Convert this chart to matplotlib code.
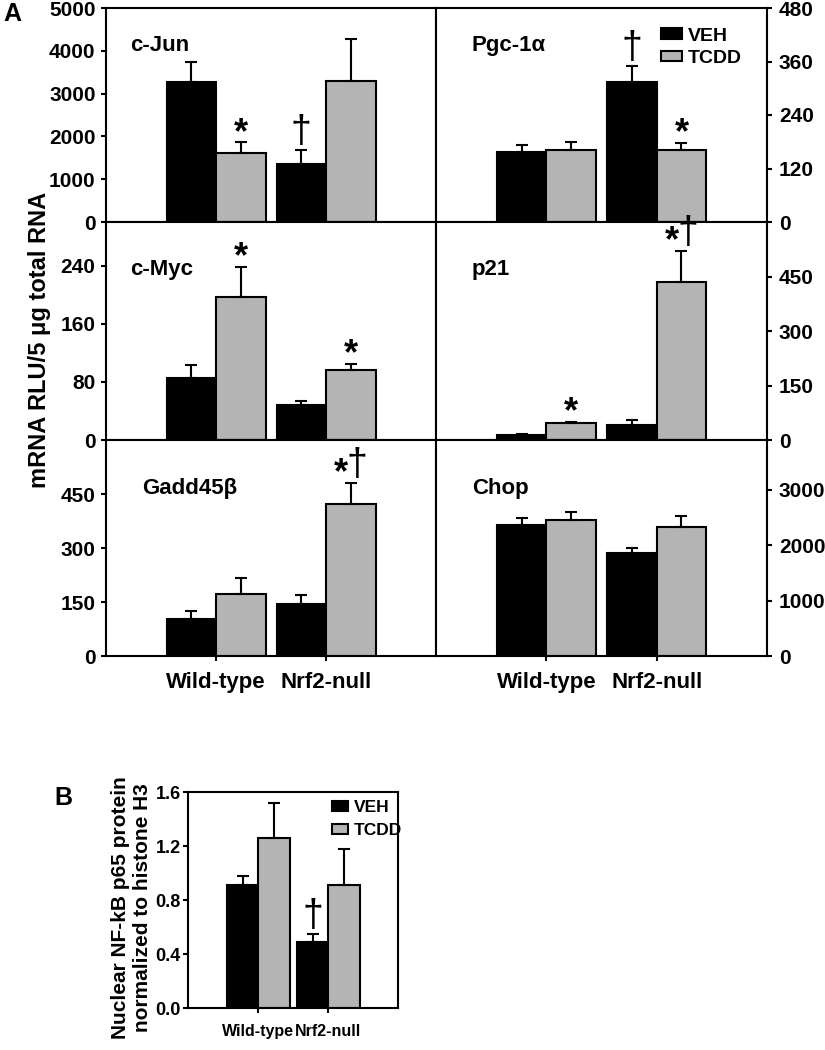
import numpy as np
import matplotlib
matplotlib.use("Agg")
import matplotlib.pyplot as plt
from matplotlib.patches import Patch
from matplotlib.ticker import FormatStrFormatter

plt.rcParams['font.family'] = ['Liberation Sans', 'DejaVu Sans']
plt.rcParams['font.weight'] = 'bold'

# data
groups = ["Wild-type", "Nrf2-null"]
genes = ["c-Jun", "Pgc-1\u03b1", "c-Myc", "p21", "Gadd45\u03b2", "Chop"]
veh_mean = [[3280, 1350], [157, 315], [85, 48], [15, 40], [102, 145], [2365, 1860]]
veh_err = [[450, 340], [15, 34], [18, 5], [2, 14], [22, 24], [120, 85]]
tcdd_mean = [[1620, 3300], [162, 162], [197, 96], [48, 434], [171, 421], [2450, 2330]]
tcdd_err = [[240, 970], [17, 16], [41, 9], [2, 86], [46, 60], [155, 190]]
veh_sig = [["", "\u2020"], ["", "\u2020"], ["", ""], ["", ""], ["", ""], ["", ""]]
tcdd_sig = [["*", ""], ["", "*"], ["*", "*"], ["*", "*\u2020"], ["", "*\u2020"], ["", ""]]
ylims = [5000, 480, 300, 600, 600, 3900]
yticks = [[0, 1000, 2000, 3000, 4000, 5000], [0, 120, 240, 360, 480],
          [0, 80, 160, 240], [0, 150, 300, 450], [0, 150, 300, 450],
          [0, 1000, 2000, 3000]]

# panel B
nfkb_veh = [0.91, 0.49]
nfkb_veh_err = [0.07, 0.06]
nfkb_tcdd = [1.26, 0.91]
nfkb_tcdd_err = [0.26, 0.27]
nfkb_veh_sig = ["", "\u2020"]
nfkb_tcdd_sig = ["", ""]

GRAY = "#b4b4b4"
W = 0.45
x = np.array([1, 2])


def star(ax, xpos, top, dx=0):
    ax.annotate("*", (xpos, top), xytext=(dx, -6), textcoords="offset points",
                ha="center", va="bottom", fontsize=26, fontweight="bold")


def dagger(ax, xpos, top, dx=0):
    ax.annotate("\u2020", (xpos, top), xytext=(dx, 0), textcoords="offset points",
                ha="center", va="bottom", fontsize=27, fontweight="normal")


def mark(ax, xpos, top, sym):
    if sym == "*":
        star(ax, xpos, top)
    elif sym == "\u2020":
        dagger(ax, xpos, top)
    elif sym == "*\u2020":
        star(ax, xpos, top, dx=-7)
        dagger(ax, xpos, top, dx=4.5)


def bars(ax, vm, ve, tm, te, vs, ts):
    kw = dict(width=W, edgecolor="black", linewidth=1.5, align="edge",
              error_kw=dict(ecolor="black", elinewidth=1.5, capsize=4, capthick=1.5))
    ax.bar(x - W, vm, color="black", yerr=[[0, 0], ve], **kw)
    ax.bar(x, tm, color=GRAY, yerr=[[0, 0], te], **kw)
    for i in range(2):
        mark(ax, x[i] - W / 2, vm[i] + ve[i], vs[i])
        mark(ax, x[i] + W / 2, tm[i] + te[i], ts[i])


fig = plt.figure(figsize=(8.25, 10.5), dpi=100)

lefts = [106 / 825, 436 / 825]
widths = [330 / 825, 331 / 825]
row_px = [(8, 222), (222, 440), (440, 656)]
label_y = [0.80, 0.757, 0.75]

for k in range(6):
    r, c = divmod(k, 2)
    top, bot = row_px[r]
    ax = fig.add_axes([lefts[c], 1 - bot / 1050, widths[c], (bot - top) / 1050])
    bars(ax, veh_mean[k], veh_err[k], tcdd_mean[k], tcdd_err[k], veh_sig[k], tcdd_sig[k])
    ax.set_xlim(0, 3)
    ax.set_ylim(0, ylims[k])
    ax.set_yticks(yticks[k])
    for s in ax.spines.values():
        s.set_linewidth(1.5)
    if c == 1:
        ax.yaxis.tick_right()
        ax.tick_params(axis="y", pad=5)
    else:
        ax.tick_params(axis="y", pad=4)
    ax.tick_params(axis="y", direction="out", length=3.5, width=1.5, labelsize=15)
    if r == 2:
        ax.set_xticks(x)
        ax.set_xticklabels(groups, fontsize=16)
        ax.tick_params(axis="x", direction="out", length=3.5, width=1.5, pad=8)
    else:
        ax.set_xticks([])
    lx = 0.073 if (c == 0 and r < 2) else 0.108
    ax.text(lx, label_y[r], genes[k], transform=ax.transAxes,
            fontsize=16, fontweight="bold", va="baseline")
    if k == 1:
        h = [Patch(facecolor="black", edgecolor="black", linewidth=1.5),
             Patch(facecolor=GRAY, edgecolor="black", linewidth=1.5)]
        ax.legend(h, ["VEH", "TCDD"], loc="upper left", frameon=False,
                  bbox_to_anchor=(0.628, 0.99), fontsize=14, handlelength=1.05,
                  handleheight=0.45, handletextpad=0.3, labelspacing=0.28)

fig.text(12 / 825, 1 - 14 / 1050, "A", fontsize=18, fontweight="bold", ha="center", va="center")
fig.text(40 / 825, 1 - 340 / 1050, "mRNA RLU/5 \u03bcg total RNA", rotation=90,
         fontsize=17, fontweight="bold", ha="center", va="center")

# panel B
axb = fig.add_axes([188.3 / 825, 1 - 1008.3 / 1050, 210 / 825, 216 / 1050])
bars(axb, nfkb_veh, nfkb_veh_err, nfkb_tcdd, nfkb_tcdd_err, nfkb_veh_sig, nfkb_tcdd_sig)
axb.set_xlim(0, 3)
axb.set_ylim(0, 1.6)
axb.set_yticks([0, 0.4, 0.8, 1.2, 1.6])
axb.yaxis.set_major_formatter(FormatStrFormatter('%.1f'))
axb.set_xticks(x)
axb.set_xticklabels(groups, fontsize=11.5)
for s in axb.spines.values():
    s.set_linewidth(1.5)
axb.tick_params(axis="y", direction="out", length=3.5, width=1.5, pad=2, labelsize=13)
axb.tick_params(axis="x", direction="out", length=3.5, width=1.5, pad=8)
hb = [Patch(facecolor="black", edgecolor="black", linewidth=1.5),
      Patch(facecolor=GRAY, edgecolor="black", linewidth=1.5)]
axb.legend(hb, ["VEH", "TCDD"], loc="upper left", frameon=False, borderaxespad=0,
           bbox_to_anchor=(0.65, 0.995), prop=dict(size=12.5, weight="bold"),
           handlelength=0.95, handleheight=0.55, handletextpad=0.3, labelspacing=0.45)

fig.text(63 / 825, 1 - 798 / 1050, "B", fontsize=18, fontweight="bold", ha="center", va="center")
fig.text(121 / 825, 1 - 908 / 1050, "Nuclear NF-kB p65 protein", rotation=90,
         fontsize=15, fontweight="bold", ha="center", va="center")
fig.text(142 / 825, 1 - 908 / 1050, "normalized to histone H3", rotation=90,
         fontsize=15, fontweight="bold", ha="center", va="center")

fig.savefig("out.png", dpi=100)
